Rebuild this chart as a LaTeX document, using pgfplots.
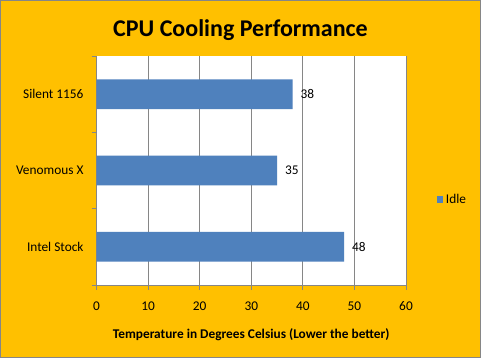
\documentclass[border=0pt]{standalone}
\usepackage{fontspec}
\setmainfont{Carlito}
\usepackage{pgfplots}
\pgfplotsset{compat=1.18}
\definecolor{bg}{HTML}{FFC000}
\definecolor{barblue}{HTML}{4F81BD}
\definecolor{gridgray}{HTML}{868686}
\begin{document}
\begin{tikzpicture}
\fill[bg] (0,0) rectangle (360.75pt,268.5pt);
\draw[gridgray, line width=0.75pt] (0.375pt,0.375pt) rectangle (360.375pt,268.125pt);
\node[font=\fontsize{18}{22}\selectfont\bfseries] at (180.4pt,246pt) {CPU Cooling Performance};
\begin{axis}[
  at={(72.4pt,54.75pt)}, anchor=south west,
  scale only axis, width=232.1pt, height=171.75pt,
  axis background/.style={fill=white},
  xbar, bar width=0.39,
  xmin=0, xmax=60, ymin=-0.5, ymax=2.5,
  xtick={0,10,...,60},
  ytick={-0.5,0.5,1.5,2.5}, yticklabels={},
  extra y ticks={0,1,2},
  extra y tick labels={Intel Stock,Venomous X,Silent 1156},
  extra y tick style={tick style={draw=none}, yticklabel style={xshift=-2.5pt}},
  axis x line*=bottom, axis y line*=left,
  axis line style={gridgray,-, line width=0.75pt},
  tick align=outside, major tick length=3.75pt,
  tick style={gridgray, line width=0.75pt},
  xmajorgrids, major grid style={gridgray, line width=0.75pt},
  tick label style={font=\fontsize{10}{12}\selectfont},
  xticklabel style={yshift=-5pt},
  /pgf/number format/assume math mode=true,
  xlabel={\bfseries Temperature in Degrees Celsius (Lower the better)},
  xlabel style={font=\fontsize{10}{12}\selectfont, yshift=-7pt},
  nodes near coords,
  nodes near coords style={font=\fontsize{10}{12}\selectfont, anchor=west, xshift=2.5pt},
  legend style={at={(1.085,0.372)}, anchor=west, draw=none, fill=none,
    font=\fontsize{10}{12}\selectfont},
  legend image code/.code={\fill[barblue] (0pt,-2.5pt) rectangle (5pt,2.5pt);},
  clip=false,
]
\addplot[fill=barblue, draw=none] coordinates {(48,0) (35,1) (38,2)};
\addlegendentry{Idle}
\end{axis}
\end{tikzpicture}
\end{document}
